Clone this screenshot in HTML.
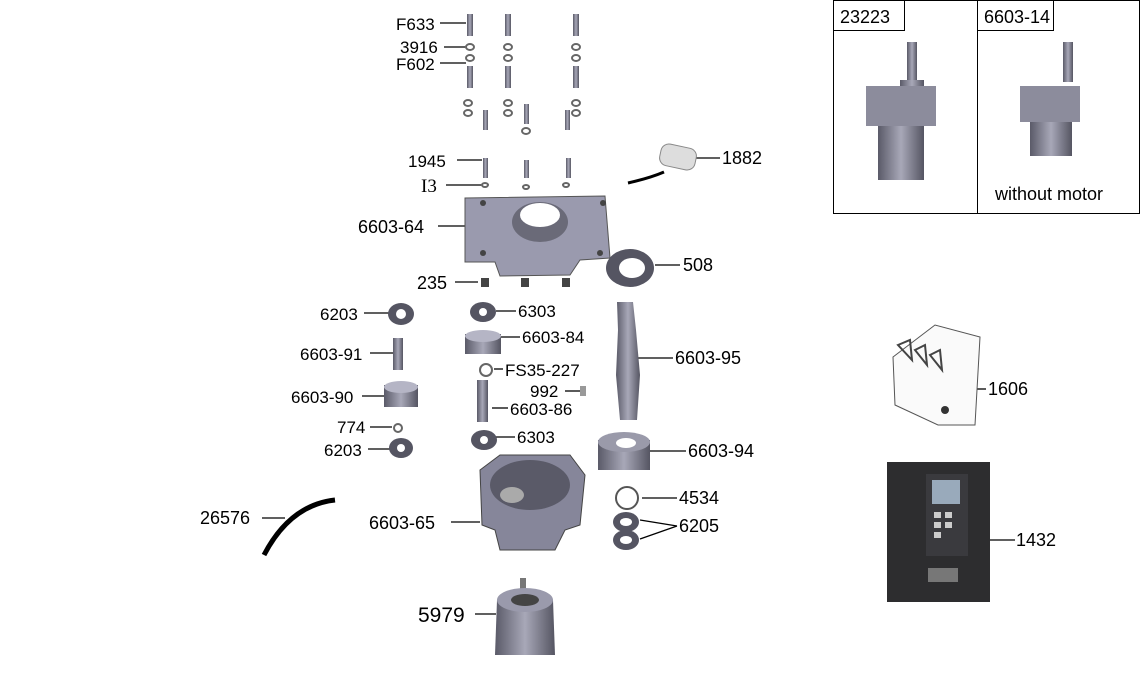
<!DOCTYPE html>
<html><head><meta charset="utf-8"><style>
html,body{margin:0;padding:0;background:#fff;}
svg{display:block;}
text{font-family:"Liberation Sans",sans-serif;font-size:17px;fill:#000;}
</style></head><body>
<svg width="1140" height="690" viewBox="0 0 1140 690" xmlns="http://www.w3.org/2000/svg">
<defs>
<linearGradient id="g" x1="0" x2="1"><stop offset="0" stop-color="#5a5a68"/><stop offset="0.5" stop-color="#a8a8b8"/><stop offset="1" stop-color="#555562"/></linearGradient>
</defs>
<g stroke="#000" stroke-width="1.3">
<line x1="440" y1="23" x2="466" y2="23"/><line x1="444" y1="47" x2="466" y2="47"/><line x1="440" y1="63" x2="466" y2="63"/>
<line x1="457" y1="160" x2="482" y2="160"/><line x1="446" y1="185" x2="482" y2="185"/>
<line x1="438" y1="226" x2="476" y2="226"/><line x1="455" y1="282" x2="478" y2="282"/>
<line x1="364" y1="313" x2="390" y2="313"/><line x1="370" y1="353" x2="396" y2="353"/><line x1="362" y1="396" x2="384" y2="396"/>
<line x1="370" y1="427" x2="392" y2="427"/><line x1="368" y1="449" x2="390" y2="449"/>
<line x1="496" y1="311" x2="516" y2="311"/><line x1="500" y1="337" x2="520" y2="337"/><line x1="494" y1="369" x2="503" y2="369"/>
<line x1="565" y1="391" x2="580" y2="391"/><line x1="492" y1="408" x2="508" y2="408"/><line x1="496" y1="437" x2="515" y2="437"/>
<line x1="695" y1="158" x2="720" y2="158"/><line x1="655" y1="265" x2="680" y2="265"/><line x1="635" y1="358" x2="673" y2="358"/>
<line x1="650" y1="451" x2="686" y2="451"/><line x1="642" y1="498" x2="677" y2="498"/>
<line x1="640" y1="520" x2="677" y2="526"/><line x1="640" y1="539" x2="677" y2="526"/>
<line x1="262" y1="518" x2="285" y2="518"/><line x1="451" y1="522" x2="480" y2="522"/><line x1="475" y1="614" x2="496" y2="614"/>
<line x1="975" y1="389" x2="986" y2="389"/><line x1="990" y1="540" x2="1015" y2="540"/>
</g>
<text x="396" y="30">F633</text><text x="400" y="53">3916</text><text x="396" y="70">F602</text>
<text x="408" y="167">1945</text><text x="421" y="192" style="font-family:'Liberation Serif',serif;font-size:19px">I3</text>
<text x="358" y="233" style="font-size:18px">6603-64</text><text x="417" y="289" style="font-size:18px">235</text>
<text x="320" y="320">6203</text><text x="300" y="360">6603-91</text><text x="291" y="403">6603-90</text>
<text x="337" y="433">774</text><text x="324" y="456">6203</text>
<text x="518" y="317">6303</text><text x="522" y="343">6603-84</text><text x="505" y="376">FS35-227</text>
<text x="530" y="397">992</text><text x="510" y="415">6603-86</text><text x="517" y="443">6303</text>
<text x="722" y="164" style="font-size:18px">1882</text><text x="683" y="271" style="font-size:18px">508</text>
<text x="675" y="364" style="font-size:18px">6603-95</text><text x="688" y="457" style="font-size:18px">6603-94</text>
<text x="679" y="504" style="font-size:18px">4534</text><text x="679" y="532" style="font-size:18px">6205</text>
<text x="200" y="524" style="font-size:18px">26576</text><text x="369" y="529" style="font-size:18px">6603-65</text>
<text x="418" y="622" style="font-size:21px">5979</text>
<text x="988" y="395" style="font-size:18px">1606</text><text x="1016" y="546" style="font-size:18px">1432</text>
<g fill="none" stroke="#000" stroke-width="1"><rect x="833.5" y="0.5" width="306" height="213"/><line x1="977.5" y1="0" x2="977.5" y2="214"/>
<rect x="833.5" y="0.5" width="71" height="30"/><rect x="977.5" y="0.5" width="76" height="30"/></g>
<text x="840" y="23" style="font-size:18px">23223</text><text x="984" y="23" style="font-size:18px">6603-14</text>
<text x="995" y="200" style="font-size:18px">without motor</text>
<rect x="907" y="42" width="10" height="40" fill="url(#g)"/><rect x="900" y="80" width="24" height="14" fill="url(#g)"/>
<rect x="866" y="86" width="70" height="40" fill="#8c8c9c"/><rect x="878" y="126" width="46" height="54" fill="url(#g)"/>
<rect x="1063" y="42" width="10" height="40" fill="url(#g)"/><rect x="1020" y="86" width="60" height="36" fill="#8c8c9c"/><rect x="1030" y="122" width="42" height="34" fill="url(#g)"/>
<g fill="url(#g)">
<rect x="467" y="14" width="6" height="22"/><rect x="505" y="14" width="6" height="22"/><rect x="573" y="14" width="6" height="22"/>
<rect x="467" y="66" width="6" height="22"/><rect x="505" y="66" width="6" height="22"/><rect x="573" y="66" width="6" height="22"/>
<rect x="483" y="110" width="5" height="20"/><rect x="524" y="104" width="5" height="20"/><rect x="565" y="110" width="5" height="20"/>
<rect x="483" y="158" width="5" height="20"/><rect x="524" y="160" width="5" height="18"/><rect x="566" y="158" width="5" height="20"/>
</g>
<g fill="none" stroke="#666" stroke-width="2">
<ellipse cx="470" cy="47" rx="4" ry="3"/><ellipse cx="508" cy="47" rx="4" ry="3"/><ellipse cx="576" cy="47" rx="4" ry="3"/>
<ellipse cx="470" cy="58" rx="4" ry="3"/><ellipse cx="508" cy="58" rx="4" ry="3"/><ellipse cx="576" cy="58" rx="4" ry="3"/>
<ellipse cx="468" cy="103" rx="4" ry="3"/><ellipse cx="508" cy="103" rx="4" ry="3"/><ellipse cx="576" cy="103" rx="4" ry="3"/>
<ellipse cx="468" cy="113" rx="4" ry="3"/><ellipse cx="508" cy="113" rx="4" ry="3"/><ellipse cx="576" cy="113" rx="4" ry="3"/>
<ellipse cx="526" cy="131" rx="4" ry="3"/><ellipse cx="485" cy="185" rx="3" ry="2"/><ellipse cx="526" cy="187" rx="3" ry="2"/><ellipse cx="566" cy="185" rx="3" ry="2"/>
</g>
<path d="M465 198 L605 196 L610 258 L580 260 L570 275 L500 276 L495 262 L465 262 Z" fill="#9a9aae" stroke="#555" stroke-width="1"/>
<ellipse cx="540" cy="222" rx="28" ry="20" fill="#6a6a78"/><ellipse cx="540" cy="215" rx="20" ry="12" fill="#fff"/>
<g fill="#444"><circle cx="483" cy="203" r="3"/><circle cx="603" cy="203" r="3"/><circle cx="483" cy="253" r="3"/><circle cx="600" cy="253" r="3"/></g>
<g fill="#444"><rect x="481" y="278" width="8" height="9"/><rect x="521" y="278" width="8" height="9"/><rect x="562" y="278" width="8" height="9"/></g>
<path d="M628 183 Q650 178 664 172" stroke="#000" stroke-width="3" fill="none"/>
<rect x="660" y="146" width="36" height="22" rx="8" fill="#ddd" stroke="#888" transform="rotate(12 678 157)"/>
<ellipse cx="630" cy="268" rx="24" ry="19" fill="#555562"/><ellipse cx="632" cy="268" rx="13" ry="10" fill="#fff"/>
<ellipse cx="401" cy="314" rx="13" ry="11" fill="#555562"/><circle cx="401" cy="314" r="5" fill="#fff"/>
<rect x="393" y="338" width="10" height="32" fill="url(#g)"/>
<rect x="384" y="385" width="34" height="22" fill="url(#g)"/><ellipse cx="401" cy="387" rx="17" ry="6" fill="#b5b5c5"/>
<circle cx="398" cy="428" r="4" fill="none" stroke="#666" stroke-width="2"/>
<ellipse cx="401" cy="448" rx="12" ry="10" fill="#555562"/><circle cx="401" cy="448" r="4" fill="#fff"/>
<ellipse cx="483" cy="312" rx="13" ry="10" fill="#555562"/><circle cx="483" cy="312" r="4" fill="#fff"/>
<rect x="465" y="334" width="36" height="20" fill="url(#g)"/><ellipse cx="483" cy="336" rx="18" ry="6" fill="#b5b5c5"/>
<circle cx="486" cy="370" r="6" fill="none" stroke="#666" stroke-width="2"/>
<rect x="580" y="386" width="6" height="10" fill="#999"/>
<rect x="477" y="380" width="11" height="42" fill="url(#g)"/>
<ellipse cx="484" cy="440" rx="13" ry="10" fill="#555562"/><circle cx="484" cy="440" r="4" fill="#fff"/>
<path d="M617 302 L633 302 L636 330 L640 375 L637 420 L620 420 L616 375 L618 330 Z" fill="url(#g)"/>
<rect x="598" y="440" width="52" height="30" fill="url(#g)"/><ellipse cx="624" cy="442" rx="26" ry="10" fill="#9a9aaa"/><ellipse cx="626" cy="443" rx="10" ry="5" fill="#fff"/>
<circle cx="627" cy="498" r="11" fill="none" stroke="#555" stroke-width="2"/>
<ellipse cx="626" cy="522" rx="13" ry="10" fill="#555562"/><ellipse cx="626" cy="522" rx="6" ry="4" fill="#fff"/>
<ellipse cx="626" cy="540" rx="13" ry="10" fill="#555562"/><ellipse cx="626" cy="540" rx="6" ry="4" fill="#fff"/>
<path d="M480 470 L500 455 L570 455 L585 475 L580 525 L565 530 L555 550 L500 550 L495 530 L482 525 Z" fill="#86869a" stroke="#444"/>
<ellipse cx="530" cy="485" rx="40" ry="25" fill="#5a5a68"/><ellipse cx="512" cy="495" rx="12" ry="8" fill="#aaa"/>
<path d="M264 555 Q290 505 335 500" stroke="#000" stroke-width="5" fill="none"/>
<rect x="520" y="578" width="6" height="14" fill="#777"/>
<path d="M497 600 L553 600 L555 655 L495 655 Z" fill="url(#g)"/><ellipse cx="525" cy="600" rx="28" ry="12" fill="#9a9aac"/><ellipse cx="525" cy="600" rx="14" ry="6" fill="#444"/>
<path d="M893 357 L935 325 L980 337 L975 425 L938 425 L895 405 Z" fill="#fafafa" stroke="#555"/>
<path d="M898 345 L910 340 L912 360 Z M915 350 L925 345 L927 365 Z M930 355 L940 350 L942 370 Z" fill="none" stroke="#444" stroke-width="2"/>
<circle cx="945" cy="410" r="4" fill="#333"/>
<rect x="887" y="462" width="103" height="140" fill="#2d2d2f"/><rect x="926" y="474" width="42" height="82" fill="#3a3a3e"/>
<rect x="932" y="480" width="28" height="24" fill="#9ab"/>
<g fill="#ccc"><rect x="934" y="512" width="7" height="6"/><rect x="945" y="512" width="7" height="6"/><rect x="934" y="522" width="7" height="6"/><rect x="945" y="522" width="7" height="6"/><rect x="934" y="532" width="7" height="6"/></g>
<rect x="928" y="568" width="30" height="14" fill="#777"/>
</svg>
</body></html>
